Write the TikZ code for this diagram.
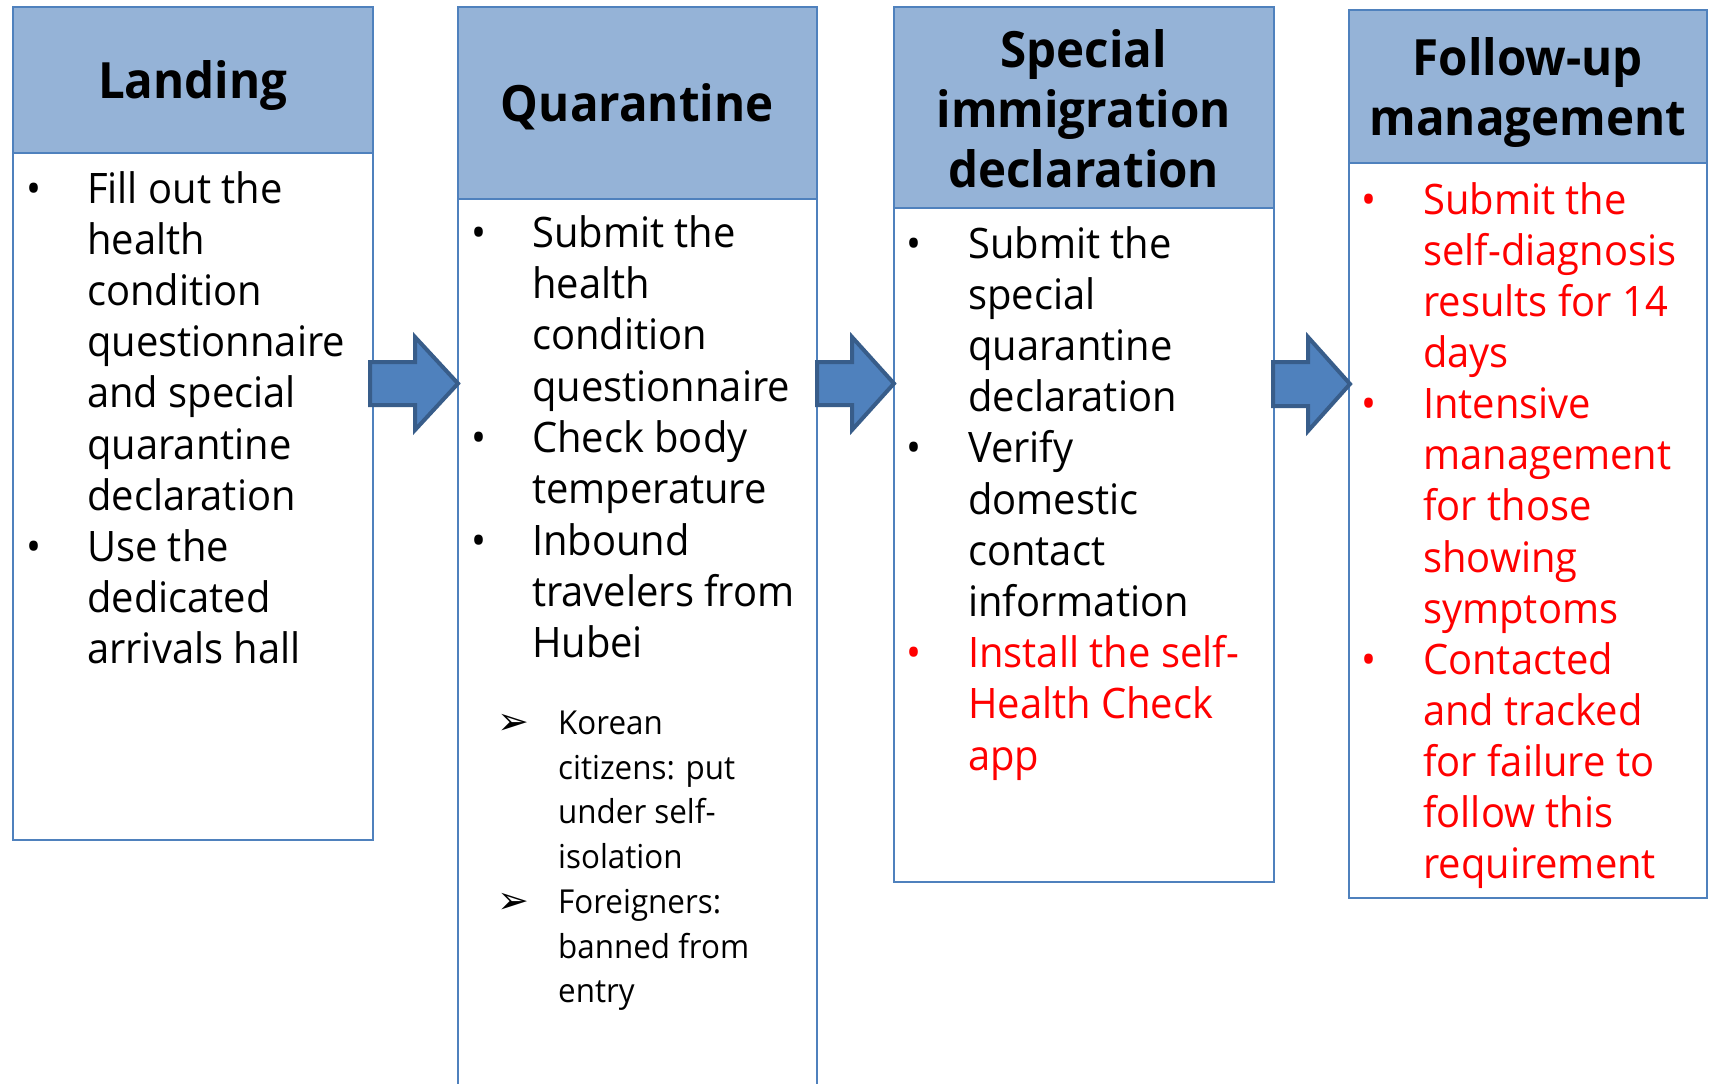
\documentclass[tikz,border=0pt]{standalone}
\usepackage{fontspec}
\setmainfont{Open Sans}
\newfontfamily\hdfont{Open Sans}[FakeStretch=0.95]
\newfontfamily\bdfont{Open Sans}[FakeStretch=0.95]
\newfontfamily\symfont{DejaVu Sans}
\definecolor{hdfill}{HTML}{95B3D7}
\definecolor{frameblue}{HTML}{4F81BD}
\definecolor{arrfill}{HTML}{4F81BD}
\definecolor{arrline}{HTML}{385D8A}
\definecolor{redtxt}{HTML}{FF0000}
\tikzset{
  frame/.style={draw=frameblue, line width=1.6pt, fill=white, anchor=north west, inner sep=0},
  headbox/.style={draw=frameblue, line width=1.6pt, fill=hdfill, anchor=north west, inner sep=0},
  headtxt/.style={align=center, inner sep=0, font=\hdfont\bfseries\fontsize{50}{60}\selectfont},
  itemtxt/.style={anchor=base west, inner sep=0, font=\bdfont\fontsize{42}{51.2}\selectfont},
  subtxt/.style={anchor=base west, inner sep=0, font=\bdfont\fontsize{33}{44.7}\selectfont},
  bul/.style={anchor=base, inner sep=0, font=\bdfont\fontsize{42}{51.2}\selectfont},
  subbul/.style={anchor=base, inner sep=0, font=\symfont\fontsize{38}{40}\selectfont},
  blockarrow/.style={fill=arrfill, draw=arrline, line width=4pt, line join=miter},
}
\newcommand\lines[1]{\parbox[t]{400pt}{\raggedright #1}}
\begin{document}
\begin{tikzpicture}[x=1pt,y=-1pt]
\useasboundingbox (0,0) rectangle (1711,1084);
\clip (0,0) rectangle (1711,1084);
% boxes
\node[frame, minimum width=360pt, minimum height=833pt] (b1) at (12,6) {};
\node[headbox, minimum width=360pt, minimum height=146pt] (h1) at (12,6) {};
\node[frame, minimum width=359pt, minimum height=1100pt] (b2) at (457,6) {};
\node[headbox, minimum width=359pt, minimum height=192pt] (h2) at (457,6) {};
\node[frame, minimum width=380pt, minimum height=875pt] (b3) at (893,6) {};
\node[headbox, minimum width=380pt, minimum height=201pt] (h3) at (893,6) {};
\node[frame, minimum width=358pt, minimum height=888pt] (b4) at (1348,9) {};
\node[headbox, minimum width=358pt, minimum height=153pt] (h4) at (1348,9) {};
% headers
\node[headtxt] (t1) at ([yshift=-6pt]h1.center) {Landing};
\node[headtxt] (t2) at ([yshift=-4pt]h2.center) {Quarantine};
\node[headtxt] (t3) at ([yshift=-1pt]h3.center) {Special\\immigration\\declaration};
\node[headtxt] (t4) at ([yshift=-6pt]h4.center) {Follow-up\\management};
% block arrows
\draw[blockarrow] (370,362) -- (415,362) -- (415,337) -- (458,383.5) -- (415,430) -- (415,405) -- (370,405) -- cycle;
\draw[blockarrow] (817,362) -- (852,362) -- (852,337) -- (894,383.5) -- (852,430) -- (852,405) -- (817,405) -- cycle;
\draw[blockarrow] (1273,362) -- (1308,362) -- (1308,337) -- (1350,384) -- (1308,431) -- (1308,406) -- (1273,406) -- cycle;
% box 1
\node[bul] (b1a) at (34,203) {•};
\node[itemtxt] (i1a) at (87,203) {\lines{Fill out the\\health\\condition\\questionnaire\\and special\\quarantine\\declaration}};
\node[bul] (b1b) at (34,561) {•};
\node[itemtxt] (i1b) at (87,561) {\lines{Use the\\dedicated\\arrivals hall}};
% box 2
\node[bul] (b2a) at (479,247.5) {•};
\node[itemtxt] (i2a) at (532,247.5) {\lines{Submit the\\health\\condition\\questionnaire}};
\node[bul] (b2b) at (479,452.7) {•};
\node[itemtxt] (i2b) at (532,452.7) {\lines{Check body\\temperature}};
\node[bul] (b2c) at (479,555.3) {•};
\node[itemtxt] (i2c) at (532,555.3) {\lines{Inbound\\travelers from\\Hubei}};
\node[subbul] (s2a) at (513,734.5) {➢};
\node[subtxt] (j2a) at (558,734.5) {\lines{Korean\\citizens: put\\under self-\\isolation}};
\node[subbul] (s2b) at (513,913.3) {➢};
\node[subtxt] (j2b) at (558,913.3) {\lines{Foreigners:\\banned from\\entry}};
% box 3
\node[bul] (b3a) at (914,258) {•};
\node[itemtxt] (i3a) at (968,258) {\lines{Submit the\\special\\quarantine\\declaration}};
\node[bul] (b3b) at (914,462.8) {•};
\node[itemtxt] (i3b) at (968,462.8) {\lines{Verify\\domestic\\contact\\information}};
\node[bul, text=redtxt] (b3c) at (914,667.6) {•};
\node[itemtxt, text=redtxt] (i3c) at (968,667.6) {\lines{Install the self-\\Health Check\\app}};
% box 4
\node[bul, text=redtxt] (b4a) at (1369,214) {•};
\node[itemtxt, text=redtxt] (i4a) at (1423,214) {\lines{Submit the\\self-diagnosis\\results for 14\\days}};
\node[bul, text=redtxt] (b4b) at (1369,418.4) {•};
\node[itemtxt, text=redtxt] (i4b) at (1423,418.4) {\lines{Intensive\\management\\for those\\showing\\symptoms}};
\node[bul, text=redtxt] (b4c) at (1369,674) {•};
\node[itemtxt, text=redtxt] (i4c) at (1423,674) {\lines{Contacted\\and tracked\\for failure to\\follow this\\requirement}};
\end{tikzpicture}
\end{document}
